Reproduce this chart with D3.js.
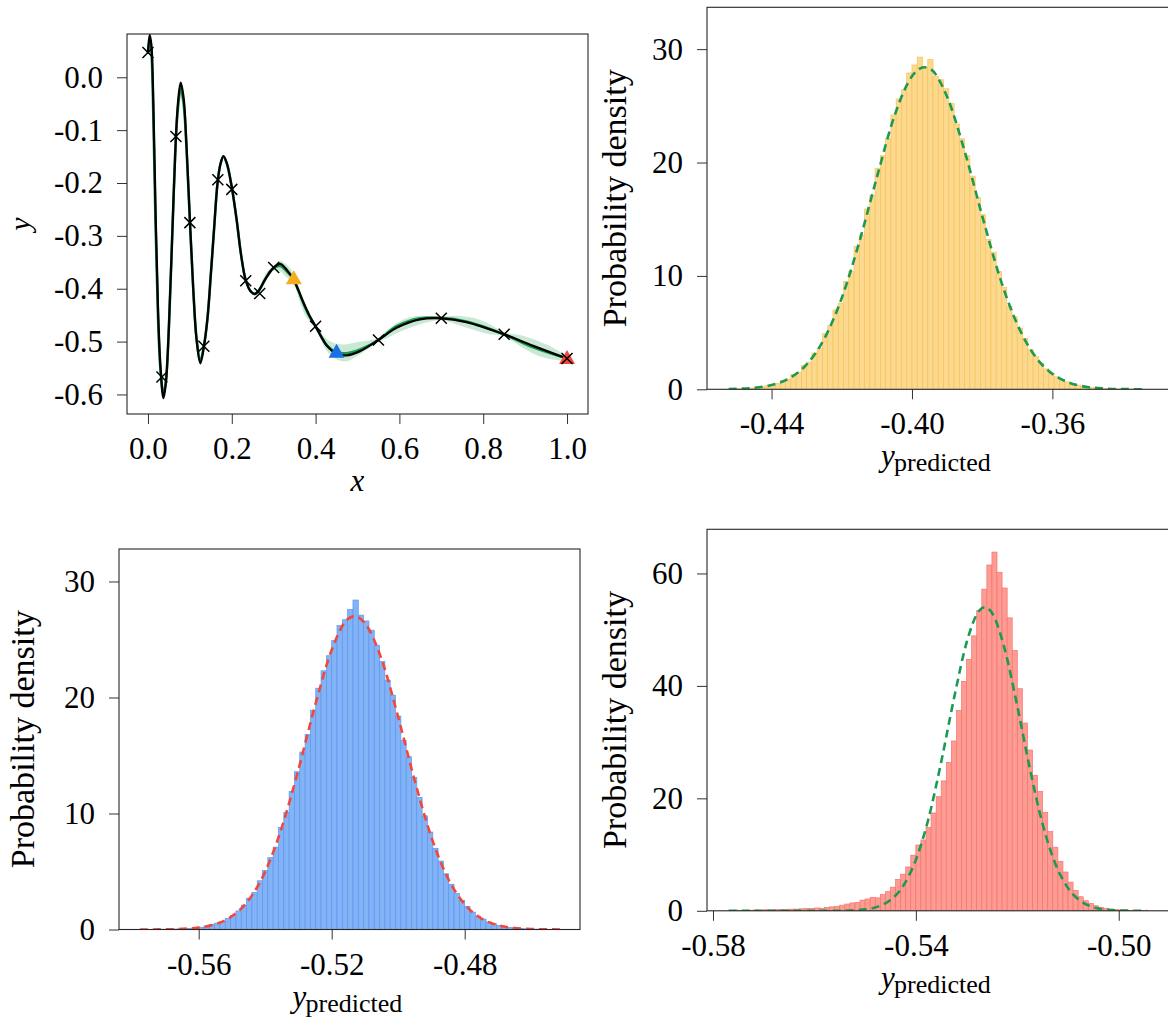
<!DOCTYPE html>
<html><head><meta charset="utf-8">
<script src="https://cdn.jsdelivr.net/npm/d3@7"></script>
<style>
html,body{margin:0;padding:0;background:#fff;}
svg{display:block;}
text{font-family:"Liberation Serif","Times New Roman",serif;fill:#000;}
</style></head><body>
<svg id="chart" width="1168" height="1020"></svg>
<script>
// ---------------- DATA ----------------
// Top-left: GP regression
const curveX = [0, 0.004, 0.008, 0.012, 0.018, 0.024, 0.030, 0.037, 0.043, 0.050, 0.058, 0.0667, 0.072, 0.078, 0.085, 0.092, 0.100, 0.108, 0.116, 0.125, 0.133, 0.142, 0.150, 0.158, 0.166, 0.173, 0.180, 0.188, 0.200, 0.212, 0.222, 0.233, 0.245, 0.255, 0.265, 0.280, 0.298, 0.315, 0.331, 0.347, 0.360, 0.371, 0.385, 0.399, 0.413, 0.427, 0.450, 0.474, 0.506, 0.550, 0.593, 0.649, 0.700, 0.760, 0.849, 0.919, 1.000];
const trueY = [0.045, 0.080, 0.062, -0.020, -0.250, -0.440, -0.550, -0.607, -0.576, -0.471, -0.297, -0.113, -0.045, -0.010, -0.039, -0.130, -0.270, -0.400, -0.497, -0.541, -0.512, -0.456, -0.373, -0.284, -0.200, -0.164, -0.149, -0.162, -0.208, -0.272, -0.335, -0.383, -0.405, -0.410, -0.403, -0.382, -0.362, -0.353, -0.364, -0.382, -0.405, -0.426, -0.450, -0.470, -0.490, -0.508, -0.523, -0.526, -0.518, -0.497, -0.474, -0.458, -0.456, -0.463, -0.486, -0.508, -0.532];
const meanY = [0.045, 0.072, 0.050, -0.045, -0.275, -0.455, -0.555, -0.600, -0.572, -0.471, -0.297, -0.113, -0.055, -0.022, -0.050, -0.135, -0.272, -0.400, -0.494, -0.536, -0.510, -0.456, -0.373, -0.284, -0.200, -0.164, -0.150, -0.163, -0.208, -0.272, -0.335, -0.383, -0.405, -0.410, -0.403, -0.382, -0.362, -0.357, -0.367, -0.382, -0.405, -0.428, -0.452, -0.470, -0.490, -0.507, -0.520, -0.522, -0.515, -0.497, -0.471, -0.456, -0.455, -0.462, -0.486, -0.511, -0.532];
const bandX  = [0.265, 0.280, 0.298, 0.315, 0.330, 0.348, 0.360, 0.375, 0.400, 0.425, 0.450, 0.475, 0.500, 0.525, 0.549, 0.575, 0.600, 0.625, 0.650, 0.675, 0.700, 0.735, 0.775, 0.810, 0.849, 0.885, 0.925, 0.960, 1.000];
const bandLo = [-0.408, -0.387, -0.366, -0.367, -0.378, -0.391, -0.419, -0.450, -0.475, -0.516, -0.534, -0.537, -0.527, -0.514, -0.501, -0.492, -0.482, -0.474, -0.467, -0.462, -0.459, -0.467, -0.477, -0.485, -0.490, -0.507, -0.525, -0.533, -0.537];
const bandHi = [-0.402, -0.373, -0.358, -0.347, -0.354, -0.371, -0.397, -0.430, -0.467, -0.494, -0.504, -0.505, -0.501, -0.498, -0.493, -0.476, -0.462, -0.454, -0.451, -0.452, -0.453, -0.451, -0.455, -0.465, -0.482, -0.487, -0.497, -0.509, -0.527];
const obsX = [0, 0.0333, 0.0667, 0.1, 0.1333, 0.1667, 0.2, 0.2333, 0.2667, 0.3, 0.4, 0.55, 0.7, 0.85, 1.0];
const obsY = [0.047, -0.567, -0.112, -0.275, -0.509, -0.194, -0.212, -0.385, -0.409, -0.360, -0.471, -0.497, -0.456, -0.486, -0.532];
const queryX = [0.348, 0.45, 1.0];
const queryY = [-0.381, -0.520, -0.532];
const queryColors = ["#f4ad1f", "#1a6ee6", "#f2463a"];
const tlXTicks = [0, 0.2, 0.4, 0.6, 0.8, 1.0];
const tlXTickLabels = ["0.0", "0.2", "0.4", "0.6", "0.8", "1.0"];
const tlYTicks = [0, -0.1, -0.2, -0.3, -0.4, -0.5, -0.6];
const tlYTickLabels = ["0.0", "-0.1", "-0.2", "-0.3", "-0.4", "-0.5", "-0.6"];

// Top-right: yellow histogram (x = 0.35)
const yellowStart = -0.4525, yellowWidth = 0.0015;
const yellowDensity = [0.02,0.03,0.05,0.07,0.1,0.18,0.22,0.3,0.42,0.5,0.75,0.9,1.3,1.5,2.1,2.4,3.2,3.6,4.9,5.6,7.0,7.6,9.5,10.4,12.6,13.6,15.9,17.1,19.5,20.6,22.1,24.2,25.6,26.4,27.9,28.6,29.3,28.4,29.1,27.6,27.3,26.5,25.2,23.4,22.1,20.6,18.8,16.9,15.4,13.2,12.1,10.4,9.0,7.3,6.4,5.4,4.5,3.5,2.9,2.3,1.8,1.4,1.1,0.85,0.65,0.5,0.37,0.26,0.19,0.14,0.1,0.07,0.05,0.04,0.03,0.02,0.01,0.01,0.01,0.0];
const yellowFitX = [-0.4522,-0.445,-0.44,-0.435,-0.43,-0.425,-0.42,-0.415,-0.41,-0.405,-0.40,-0.3965,-0.395,-0.39,-0.385,-0.38,-0.375,-0.37,-0.365,-0.36,-0.355,-0.35,-0.345,-0.34,-0.3331];
const yellowFitY = [0.024,0.13,0.38,0.96,2.19,4.45,8.05,13.0,18.7,24.1,27.6,28.4,28.3,25.8,21.0,15.3,9.9,5.73,2.95,1.36,0.56,0.20,0.067,0.02,0.004];
const yellowXTicks = [-0.44, -0.40, -0.36];
const yellowXTickLabels = ["-0.44", "-0.40", "-0.36"];
const yellowYTicks = [0, 10, 20, 30];

// Bottom-left: blue histogram (x = 0.45)
const blueStart = -0.5776, blueWidth = 0.0016;
const blueDensity = [0.0,0.0,0.01,0.0,0.02,0.03,0.04,0.05,0.08,0.1,0.15,0.2,0.3,0.45,0.55,0.7,0.95,1.2,1.6,2.1,2.7,3.2,4.2,5.1,6.2,7.1,8.8,10.1,11.9,13.6,15.3,16.8,18.9,20.8,22.3,23.6,24.9,26.2,26.7,27.6,28.4,27.1,26.6,25.8,24.5,23.1,21.5,20.2,18.4,16.3,14.9,13.1,11.4,9.8,8.4,7.0,5.9,4.8,3.9,3.1,2.5,2.0,1.5,1.15,0.9,0.65,0.5,0.35,0.26,0.18,0.13,0.09,0.06,0.04,0.03,0.02,0.01,0.01,0.0];
const blueFitX = [-0.5777,-0.575,-0.57,-0.565,-0.56,-0.555,-0.55,-0.545,-0.54,-0.535,-0.53,-0.525,-0.52,-0.515,-0.513,-0.51,-0.505,-0.50,-0.495,-0.49,-0.485,-0.48,-0.475,-0.47,-0.465,-0.46,-0.4513];
const blueFitY = [0.002,0.004,0.015,0.052,0.163,0.455,1.14,2.53,4.99,8.8,13.8,19.3,24.1,26.8,27.0,26.4,23.3,18.3,12.8,7.93,4.40,2.17,0.95,0.37,0.13,0.04,0.004];
const blueXTicks = [-0.56, -0.52, -0.48];
const blueXTickLabels = ["-0.56", "-0.52", "-0.48"];
const blueYTicks = [0, 10, 20, 30];

// Bottom-right: red histogram (x = 1.0)
const redStart = -0.5770, redWidth = 0.0010;
const redDensity = [0.05,0.1,0.05,0.1,0.1,0.15,0.1,0.2,0.15,0.2,0.25,0.2,0.3,0.3,0.35,0.4,0.4,0.5,0.45,0.6,0.7,0.8,1.0,1.2,1.4,1.5,1.9,2.1,2.4,2.3,2.9,3.4,4.2,5.6,6.5,7.8,9.9,11.7,12.6,14.8,17.4,20.3,23.1,26.4,30.2,35.6,40.8,44.7,48.9,53.4,57.2,61.5,63.8,60.2,57.4,52.1,46.3,39.5,33.4,28.6,24.1,21.2,17.5,14.1,11.3,8.8,6.9,5.1,3.6,2.5,1.8,1.3,0.9,0.6,0.45,0.3,0.2,0.15,0.1,0.08,0.05,0.03,0.02];
const redFitX = [-0.5769,-0.57,-0.56,-0.555,-0.55,-0.5475,-0.545,-0.5425,-0.54,-0.5375,-0.535,-0.5325,-0.53,-0.5275,-0.5264,-0.525,-0.5225,-0.52,-0.5175,-0.515,-0.5125,-0.51,-0.5075,-0.505,-0.5025,-0.50,-0.4945];
const redFitY = [0,0,0.001,0.02,0.25,0.74,1.92,4.43,9.06,16.4,26.5,37.7,47.7,53.4,54.0,53.0,46.6,36.4,25.2,15.4,8.37,4.03,1.72,0.65,0.2,0.065,0];
const redXTicks = [-0.58, -0.54, -0.50];
const redXTickLabels = ["-0.58", "-0.54", "-0.50"];
const redYTicks = [0, 20, 40, 60];

// ---------------- DRAWING ----------------
const svg = d3.select("#chart");
const SPINE = "#262626";
const SERIF = "'Liberation Serif', 'Times New Roman', serif";
let clipId = 0;

function makePanel(box, xDom, yDom) {
  const g = svg.append("g").attr("transform", `translate(${box.x},${box.y})`);
  const x = d3.scaleLinear().domain(xDom).range([0, box.w]);
  const y = d3.scaleLinear().domain(yDom).range([box.h, 0]);
  const id = "clip" + (clipId++);
  g.append("clipPath").attr("id", id).append("rect").attr("width", box.w).attr("height", box.h);
  const plot = g.append("g").attr("clip-path", `url(#${id})`);
  return {g, x, y, plot, box};
}

function drawAxes(p, xTicks, xLabels, yTicks, yLabels) {
  const ax = d3.axisBottom(p.x).tickValues(xTicks).tickFormat((d, i) => xLabels[i]).tickSize(10).tickPadding(13);
  const xa = p.g.append("g").attr("transform", `translate(0,${p.box.h})`).call(ax);
  const ay = d3.axisLeft(p.y).tickValues(yTicks).tickFormat((d, i) => yLabels[i]).tickSize(10).tickPadding(14);
  const ya = p.g.append("g").call(ay);
  [xa, ya].forEach(a => {
    a.select(".domain").remove();
    a.attr("font-family", null).attr("font-size", null);
    a.selectAll("line").attr("stroke", "#333").attr("stroke-width", 1);
    a.selectAll("text").style("font-family", SERIF).style("font-size", "31px").attr("fill", "#000");
  });
  ya.selectAll("text").attr("dy", "0.32em");
  p.g.append("rect").attr("width", p.box.w).attr("height", p.box.h)
    .attr("fill", "none").attr("stroke", SPINE).attr("stroke-width", 1.1);
}

function yPredLabel(p) {
  const cx = p.box.w / 2;
  const base = p.box.h + 77;
  p.g.append("text").attr("x", cx - 57).attr("y", base)
    .style("font-family", SERIF).style("font-size", "31px").style("font-style", "italic").text("y");
  p.g.append("text").attr("x", cx - 44).attr("y", base + 5)
    .style("font-family", SERIF).style("font-size", "26px").text("predicted");
}

function densityLabel(p, off) {
  p.g.append("text")
    .attr("transform", `translate(${-off},${p.box.h / 2}) rotate(-90)`)
    .attr("text-anchor", "middle")
    .style("font-family", SERIF).style("font-size", "33px")
    .attr("textLength", 258).attr("lengthAdjust", "spacingAndGlyphs")
    .text("Probability density");
}

function drawHist(p, start, width, dens, fill, edge, fitX, fitY, fitColor) {
  const bins = dens.map((v, i) => ({x0: start + i * width, x1: start + (i + 1) * width, v}));
  p.plot.append("g").selectAll("rect").data(bins).join("rect")
    .attr("x", d => p.x(d.x0))
    .attr("width", d => p.x(d.x1) - p.x(d.x0))
    .attr("y", d => p.y(d.v))
    .attr("height", d => p.y(0) - p.y(d.v))
    .attr("fill", fill).attr("stroke", edge).attr("stroke-width", 0.7);
  const pts = fitX.map((xv, i) => [xv, fitY[i]]);
  p.plot.append("path").datum(pts)
    .attr("d", d3.line().x(d => p.x(d[0])).y(d => p.y(d[1])).curve(d3.curveMonotoneX))
    .attr("fill", "none").attr("stroke", fitColor).attr("stroke-width", 2.6)
    .attr("stroke-dasharray", "8,5");
}

// Top-left panel
const tl = makePanel({x: 127, y: 34, w: 461, h: 380}, [-0.05005, 1.05005], [-0.637, 0.0819]);
{
  const band = bandX.map((xv, i) => [xv, bandLo[i], bandHi[i]]);
  tl.plot.append("path").datum(band)
    .attr("d", d3.area().x(d => tl.x(d[0])).y0(d => tl.y(d[1])).y1(d => tl.y(d[2])).curve(d3.curveCatmullRom))
    .attr("fill", "#c9e9d5");
  const line = d3.line().x(d => tl.x(d[0])).y(d => tl.y(d[1])).curve(d3.curveCatmullRom.alpha(0.5));
  tl.plot.append("path").datum(curveX.map((xv, i) => [xv, meanY[i]]))
    .attr("d", line).attr("fill", "none").attr("stroke", "#1a9a50").attr("stroke-width", 2.6);
  tl.plot.append("path").datum(curveX.map((xv, i) => [xv, trueY[i]]))
    .attr("d", line).attr("fill", "none").attr("stroke", "#000").attr("stroke-width", 2.3);
  tl.g.selectAll(".tri").data(queryX).join("path")
    .attr("transform", (d, i) => `translate(${tl.x(d)},${tl.y(queryY[i])})`)
    .attr("d", "M0,-8.5L8,5.5L-8,5.5Z").attr("fill", (d, i) => queryColors[i]);
  tl.g.selectAll(".obs").data(obsX).join("path")
    .attr("transform", (d, i) => `translate(${tl.x(d)},${tl.y(obsY[i])})`)
    .attr("d", "M-5.5,-5.5L5.5,5.5M-5.5,5.5L5.5,-5.5").attr("stroke", "#000").attr("stroke-width", 1.5);
  drawAxes(tl, tlXTicks, tlXTickLabels, tlYTicks, tlYTickLabels);
  tl.g.append("text").attr("x", tl.box.w / 2).attr("y", tl.box.h + 77).attr("text-anchor", "middle")
    .style("font-family", SERIF).style("font-size", "31px").style("font-style", "italic").text("x");
  tl.g.append("text").attr("transform", `translate(-97,${tl.box.h / 2}) rotate(-90)`).attr("text-anchor", "middle")
    .style("font-family", SERIF).style("font-size", "30px").style("font-style", "italic").text("y");
}

// Top-right panel
const tr = makePanel({x: 707, y: 7.3, w: 462, h: 382}, [-0.45839, -0.32678], [0, 33.69]);
drawHist(tr, yellowStart, yellowWidth, yellowDensity, "#fcd98f", "#f6c358", yellowFitX, yellowFitY, "#1b9a52");
drawAxes(tr, yellowXTicks, yellowXTickLabels, yellowYTicks, yellowYTicks.map(String));
yPredLabel(tr);
densityLabel(tr, 81);

// Bottom-left panel
const bl = makePanel({x: 119, y: 549, w: 461, h: 380.5}, [-0.58397, -0.44532], [0, 32.8]);
drawHist(bl, blueStart, blueWidth, blueDensity, "#83b3f7", "#5b96ef", blueFitX, blueFitY, "#f2473b");
drawAxes(bl, blueXTicks, blueXTickLabels, blueYTicks, blueYTicks.map(String));
yPredLabel(bl);
densityLabel(bl, 85);

// Bottom-right panel
const br = makePanel({x: 707, y: 529.3, w: 462, h: 381.5}, [-0.58118, -0.49009], [0, 67.85]);
drawHist(br, redStart, redWidth, redDensity, "#fe9c94", "#f3746c", redFitX, redFitY, "#1b9a52");
drawAxes(br, redXTicks, redXTickLabels, redYTicks, redYTicks.map(String));
yPredLabel(br);
densityLabel(br, 81);
</script>
</body></html>
